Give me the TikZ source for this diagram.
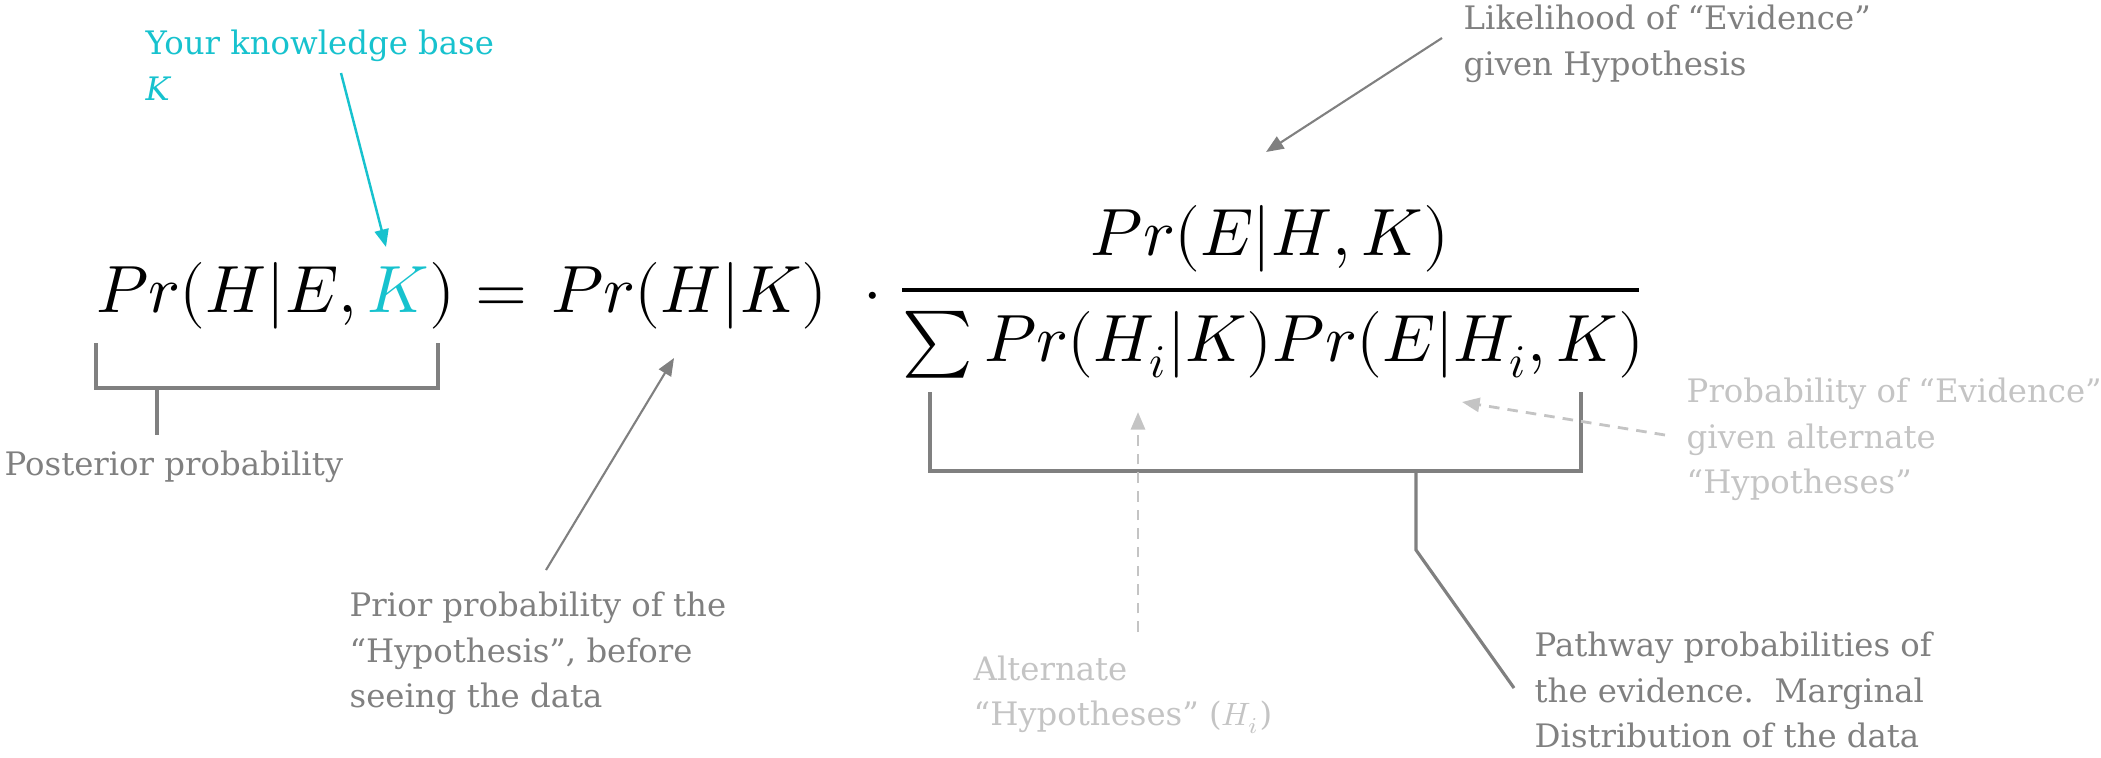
\documentclass[tikz,border=0pt]{standalone}
\usepackage{fontspec}
\usepackage{unicode-math}
\newfontfamily\notefont{DejaVu Serif}
\usetikzlibrary{arrows.meta}
\usetikzlibrary{calc}
\definecolor{kbcyan}{HTML}{17C2CE}
\definecolor{notegray}{HTML}{808080}
\definecolor{palegray}{HTML}{C4C4C4}
\newcommand{\eqsize}{\fontsize{19}{23}\selectfont}
\newcommand{\notesize}{\notefont\fontsize{9.2}{12.8}\selectfont}

\begin{document}
\begin{tikzpicture}[x=0.01cm,y=-0.01cm,>={Triangle[length=5pt,width=4pt]},
    eq node/.style={font=\eqsize,inner sep=0pt,anchor=base west},
    note/.style={font=\notesize,text=notegray,inner sep=0pt,anchor=base west,align=left},
    pale note/.style={note,text=palegray},
    link/.style={draw=notegray,line width=0.6pt},
    kb link/.style={draw=kbcyan,line width=0.7pt},
    brace line/.style={draw=notegray,line width=0.9pt},
    pale link/.style={draw=palegray,line width=0.8pt,dash pattern=on 3pt off 2.3pt}]
  \useasboundingbox (0,0) rectangle (2101,757);
  % the formula
  \node[eq node] (lhs) at (96,312) {$Pr(H|E,{\color{kbcyan}K})$};
  \node[eq node,anchor=base] (eq) at (501,312) {$=$};
  \node[eq node] (rhs) at (551,312) {$Pr(H|K)$};
  \node[eq node,anchor=base] (dot) at (873,312) {$\cdot$};
  \node[eq node,anchor=base] (num) at (1270,255) {$Pr(E|H,K)$};
  \node[eq node] (den) at (902,361) {$\sum Pr(H_i|K)Pr(E|H_i,K)$};
  \draw[line width=1.2pt] (902,290) -- (1639,290);
  % the notes (base = last line)
  \node[note,text=kbcyan] (kb) at (145,100) {Your knowledge base\\\textit{K}};
  \node[note] (post) at (4,475) {Posterior probability};
  \node[note] (prior) at (349,707) {Prior probability of the\\“Hypothesis”, before\\seeing the data};
  \node[note] (like) at (1463,75) {Likelihood of “Evidence”\\given Hypothesis};
  \node[pale note] (alt) at (973,725) {Alternate\\“Hypotheses” ($H_i$)};
  \node[pale note] (prob) at (1686,493) {Probability of “Evidence”\\given alternate\\“Hypotheses”};
  \node[note] (pathway) at (1534,747) {Pathway probabilities of\\the evidence.\ \ Marginal\\Distribution of the data};
  % brackets and arrows
  \draw[brace line] ($(lhs.base west)+(0,31)$) |- ($(lhs.base west)+(342,76)$) -- ++(0,-45);
  \draw[brace line] ($(lhs.base west)+(61,76)$) -- ($(post.base west)+(153,-40)$);
  \draw[kb link,->] ($(kb.base west)+(196,-27)$) -- ($(lhs.base west)+(290,-65)$);
  \draw[link,->] ($(prior.base west)+(197,-137)$) -- ($(rhs.base west)+(123,46)$);
  \draw[link,->] ($(like.base west)+(-21,-37)$) -- ($(num.base)+(-4,-103)$);
  \draw[brace line] ($(den.base west)+(28,31)$) |- ($(den.base west)+(679,110)$) -- ++(0,-79);
  \draw[brace line] ($(den.base west)+(514,110)$) -- ++(0,79) -- ($(pathway.base west)+(-20,-59)$);
  \draw[pale link,->] ($(alt.base west)+(165,-93)$) -- ($(den.base west)+(236,51)$);
  \draw[pale link,->] ($(prob.base west)+(-21,-58)$) -- ($(den.base west)+(560,41)$);
\end{tikzpicture}
\end{document}
